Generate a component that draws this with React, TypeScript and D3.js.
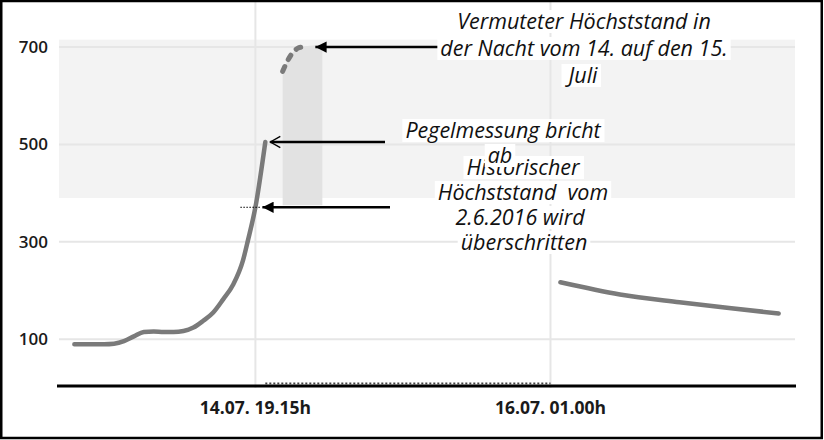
import React, { useRef, useEffect } from "react";
import * as d3 from "d3";

const t = (day: number, h: number, m = 0) => new Date(2021, 6, day, h, m);

// axis
const xDomain = [t(13, 23, 15), t(17, 1, 45)];
const yDomain = [0, 700];
const yTicks = [100, 300, 500, 700];
const xTicks = [t(14, 19, 15), t(16, 1, 0)];
const xTickLabels = ["14.07. 19.15h", "16.07. 01.00h"];

// gemessener Pegel bis zum Ausfall
const measuredTimes = [
  t(14, 1), t(14, 4), t(14, 5), t(14, 6), t(14, 7), t(14, 8), t(14, 9), t(14, 10),
  t(14, 11), t(14, 12), t(14, 13), t(14, 14), t(14, 15), t(14, 16), t(14, 17),
  t(14, 18), t(14, 18, 30), t(14, 19, 15), t(14, 20, 15),
];
const measuredValues = [
  90, 90, 91, 96, 106, 115, 116, 115, 115, 117, 124, 138, 155, 182, 212, 262, 303, 371, 505,
];

// vermuteter Hoechststand (gestrichelt)
const peakTimes = [t(14, 22), t(14, 22, 30), t(14, 23), t(14, 23, 30), t(15, 0)];
const peakValues = [650, 672, 688, 697, 700];

// Flaeche unter dem vermuteten Hoechststand
const peakAreaTimes = [t(14, 22), t(14, 22, 30), t(14, 23), t(14, 23, 30), t(15, 0), t(15, 1), t(15, 2)];
const peakAreaValues = [650, 672, 688, 697, 700, 703, 704];
const peakAreaBase = 375;

// Pegel nach Wiederaufnahme der Messung
const laterTimes = [t(16, 2), t(16, 8), t(16, 14), t(16, 19), t(17, 0)];
const laterValues = [217, 192, 176, 164, 153];

const bandRange = [390, 715];
const historicHigh = 371;
const gapRange = [t(14, 20, 15), t(16, 1)];

const noteTop = ["Vermuteter Höchststand in", "der Nacht vom 14. auf den 15.", "Juli"];
const noteBreak = ["Pegelmessung bricht", "ab"];
const noteHistoric = ["Historischer", "Höchststand  vom", "2.6.2016 wird", "überschritten"];

const App = () => {
  const svgRef = useRef<SVGSVGElement>(null);

  useEffect(() => {
    const svg = d3.select(svgRef.current);
    svg.selectAll("*").remove();

    const x = d3.scaleTime().domain(xDomain).range([57, 796]);
    const y = d3.scaleLinear().domain(yDomain).range([388, 47]);
    const left = 59, right = 795;

    const defs = svg.append("defs");
    defs.append("marker").attr("id", "tri")
      .attr("viewBox", "0 0 10 10").attr("refX", 10).attr("refY", 5)
      .attr("markerWidth", 5.5).attr("markerHeight", 4.5).attr("orient", "auto-start-reverse")
      .attr("markerUnits", "strokeWidth")
      .append("path").attr("d", "M0,0 L10,5 L0,10 Z").attr("fill", "#000");
    defs.append("marker").attr("id", "chev")
      .attr("viewBox", "0 0 10 10").attr("refX", 9).attr("refY", 5)
      .attr("markerWidth", 5).attr("markerHeight", 6).attr("orient", "auto-start-reverse")
      .attr("markerUnits", "strokeWidth")
      .append("path").attr("d", "M1,0.5 L9,5 L1,9.5").attr("fill", "none")
      .attr("stroke", "#000").attr("stroke-width", 1.1);

    // Band
    svg.append("rect")
      .attr("x", left).attr("width", right - left)
      .attr("y", y(bandRange[1])).attr("height", y(bandRange[0]) - y(bandRange[1]))
      .attr("fill", "#f3f3f3");

    // Gitter
    svg.selectAll(".hgrid").data(yTicks).join("line")
      .attr("x1", left).attr("x2", right)
      .attr("y1", d => y(d)).attr("y2", d => y(d))
      .attr("stroke", "#e6e6e6").attr("stroke-width", 2);
    svg.selectAll(".vgrid").data(xTicks).join("line")
      .attr("x1", d => x(d)).attr("x2", d => x(d))
      .attr("y1", 0).attr("y2", y(0))
      .attr("stroke", "#e6e6e6").attr("stroke-width", 2);

    // Flaeche vermuteter Hoechststand
    const area = d3.area<number>()
      .x((d, i) => x(peakAreaTimes[i]))
      .y0(y(peakAreaBase)).y1(d => y(d))
      .curve(d3.curveMonotoneX);
    svg.append("path").attr("d", area(peakAreaValues)).attr("fill", "#e2e2e2");

    // Linien
    const measuredLine = d3.line<number>()
      .x((d, i) => x(measuredTimes[i])).y(d => y(d)).curve(d3.curveMonotoneX);
    svg.append("path").attr("d", measuredLine(measuredValues))
      .attr("fill", "none").attr("stroke", "#7a7a7a").attr("stroke-width", 4.5)
      .attr("stroke-linecap", "round");

    const peakLine = d3.line<number>()
      .x((d, i) => x(peakTimes[i])).y(d => y(d)).curve(d3.curveMonotoneX);
    svg.append("path").attr("d", peakLine(peakValues))
      .attr("fill", "none").attr("stroke", "#7a7a7a").attr("stroke-width", 5)
      .attr("stroke-linecap", "round").attr("stroke-dasharray", "5,8");

    const laterLine = d3.line<number>()
      .x((d, i) => x(laterTimes[i])).y(d => y(d)).curve(d3.curveMonotoneX);
    svg.append("path").attr("d", laterLine(laterValues))
      .attr("fill", "none").attr("stroke", "#7a7a7a").attr("stroke-width", 4.5)
      .attr("stroke-linecap", "round");

    // Achse
    svg.append("line").attr("x1", 57).attr("x2", 796).attr("y1", 386).attr("y2", 386)
      .attr("stroke", "#000").attr("stroke-width", 3);
    svg.append("line")
      .attr("x1", x(gapRange[0])).attr("x2", x(gapRange[1]))
      .attr("y1", 383.5).attr("y2", 383.5)
      .attr("stroke", "#444").attr("stroke-width", 2).attr("stroke-dasharray", "2,2");

    // Markierung historischer Hoechststand
    svg.append("line")
      .attr("x1", x(xTicks[0]) - 15).attr("x2", x(xTicks[0]) + 6)
      .attr("y1", y(historicHigh)).attr("y2", y(historicHigh))
      .attr("stroke", "#000").attr("stroke-width", 1).attr("stroke-dasharray", "1.5,1.5");

    svg.selectAll(".ylab").data(yTicks).join("text")
      .attr("x", 48).attr("y", d => y(d) + 6)
      .attr("text-anchor", "end")
      .style("font-family", "'Open Sans', sans-serif").style("font-size", "17px")
      .style("font-weight", 600).attr("fill", "#1a1a1a")
      .text(d => d);

    svg.selectAll(".xlab").data(xTicks).join("text")
      .attr("x", d => x(d)).attr("y", 414)
      .attr("text-anchor", "middle")
      .style("font-family", "'Open Sans', sans-serif").style("font-size", "17.5px")
      .style("font-weight", 700).attr("fill", "#1a1a1a")
      .text((d, i) => xTickLabels[i]);

    // Pfeile
    svg.append("line")
      .attr("x1", 438).attr("x2", x(peakAreaTimes[6]) - 7)
      .attr("y1", y(700)).attr("y2", y(700))
      .attr("stroke", "#000").attr("stroke-width", 2.5).attr("marker-end", "url(#tri)");
    svg.append("line")
      .attr("x1", 385).attr("x2", x(measuredTimes[measuredTimes.length - 1]) + 5)
      .attr("y1", y(505)).attr("y2", y(505))
      .attr("stroke", "#000").attr("stroke-width", 2.5).attr("marker-end", "url(#chev)");
    svg.append("line")
      .attr("x1", 390).attr("x2", x(xTicks[0]) + 7)
      .attr("y1", y(historicHigh)).attr("y2", y(historicHigh))
      .attr("stroke", "#000").attr("stroke-width", 2.5).attr("marker-end", "url(#tri)");

    // Anmerkungen mit weissem Hintergrund
    const note = (lines: string[], cx: number[], baselines: number[]) => {
      const g = svg.append("g");
      lines.forEach((txt, i) => {
        const bg = g.append("rect").attr("fill", "#fff");
        const tx = g.append("text")
          .attr("x", cx[i]).attr("y", baselines[i])
          .attr("text-anchor", "middle")
          .style("font-family", "'Open Sans', sans-serif").style("font-size", "21.5px")
          .style("font-style", "italic").style("white-space", "pre").attr("fill", "#111")
          .text(txt);
        const b = (tx.node() as SVGTextElement).getBBox();
        bg.attr("x", b.x - 3).attr("y", baselines[i] - 19).attr("width", b.width + 6).attr("height", 23);
      });
    };
    note(noteHistoric, [523, 523, 520, 524], [175, 200, 225, 250]);
    note(noteBreak, [503, 500], [138, 163]);
    note(noteTop, [584, 584, 583], [29, 56, 83]);

    // Rahmen
    svg.append("rect").attr("x", 1.25).attr("y", 1).attr("width", 820.5).attr("height", 437)
      .attr("fill", "none").attr("stroke", "#000").attr("stroke-width", 2.5);
  }, []);

  return (
    <svg ref={svgRef} width={824} height={440}
      style={{ position: "absolute", left: 0, top: 0, background: "#fff" }} />
  );
};

export default App;
